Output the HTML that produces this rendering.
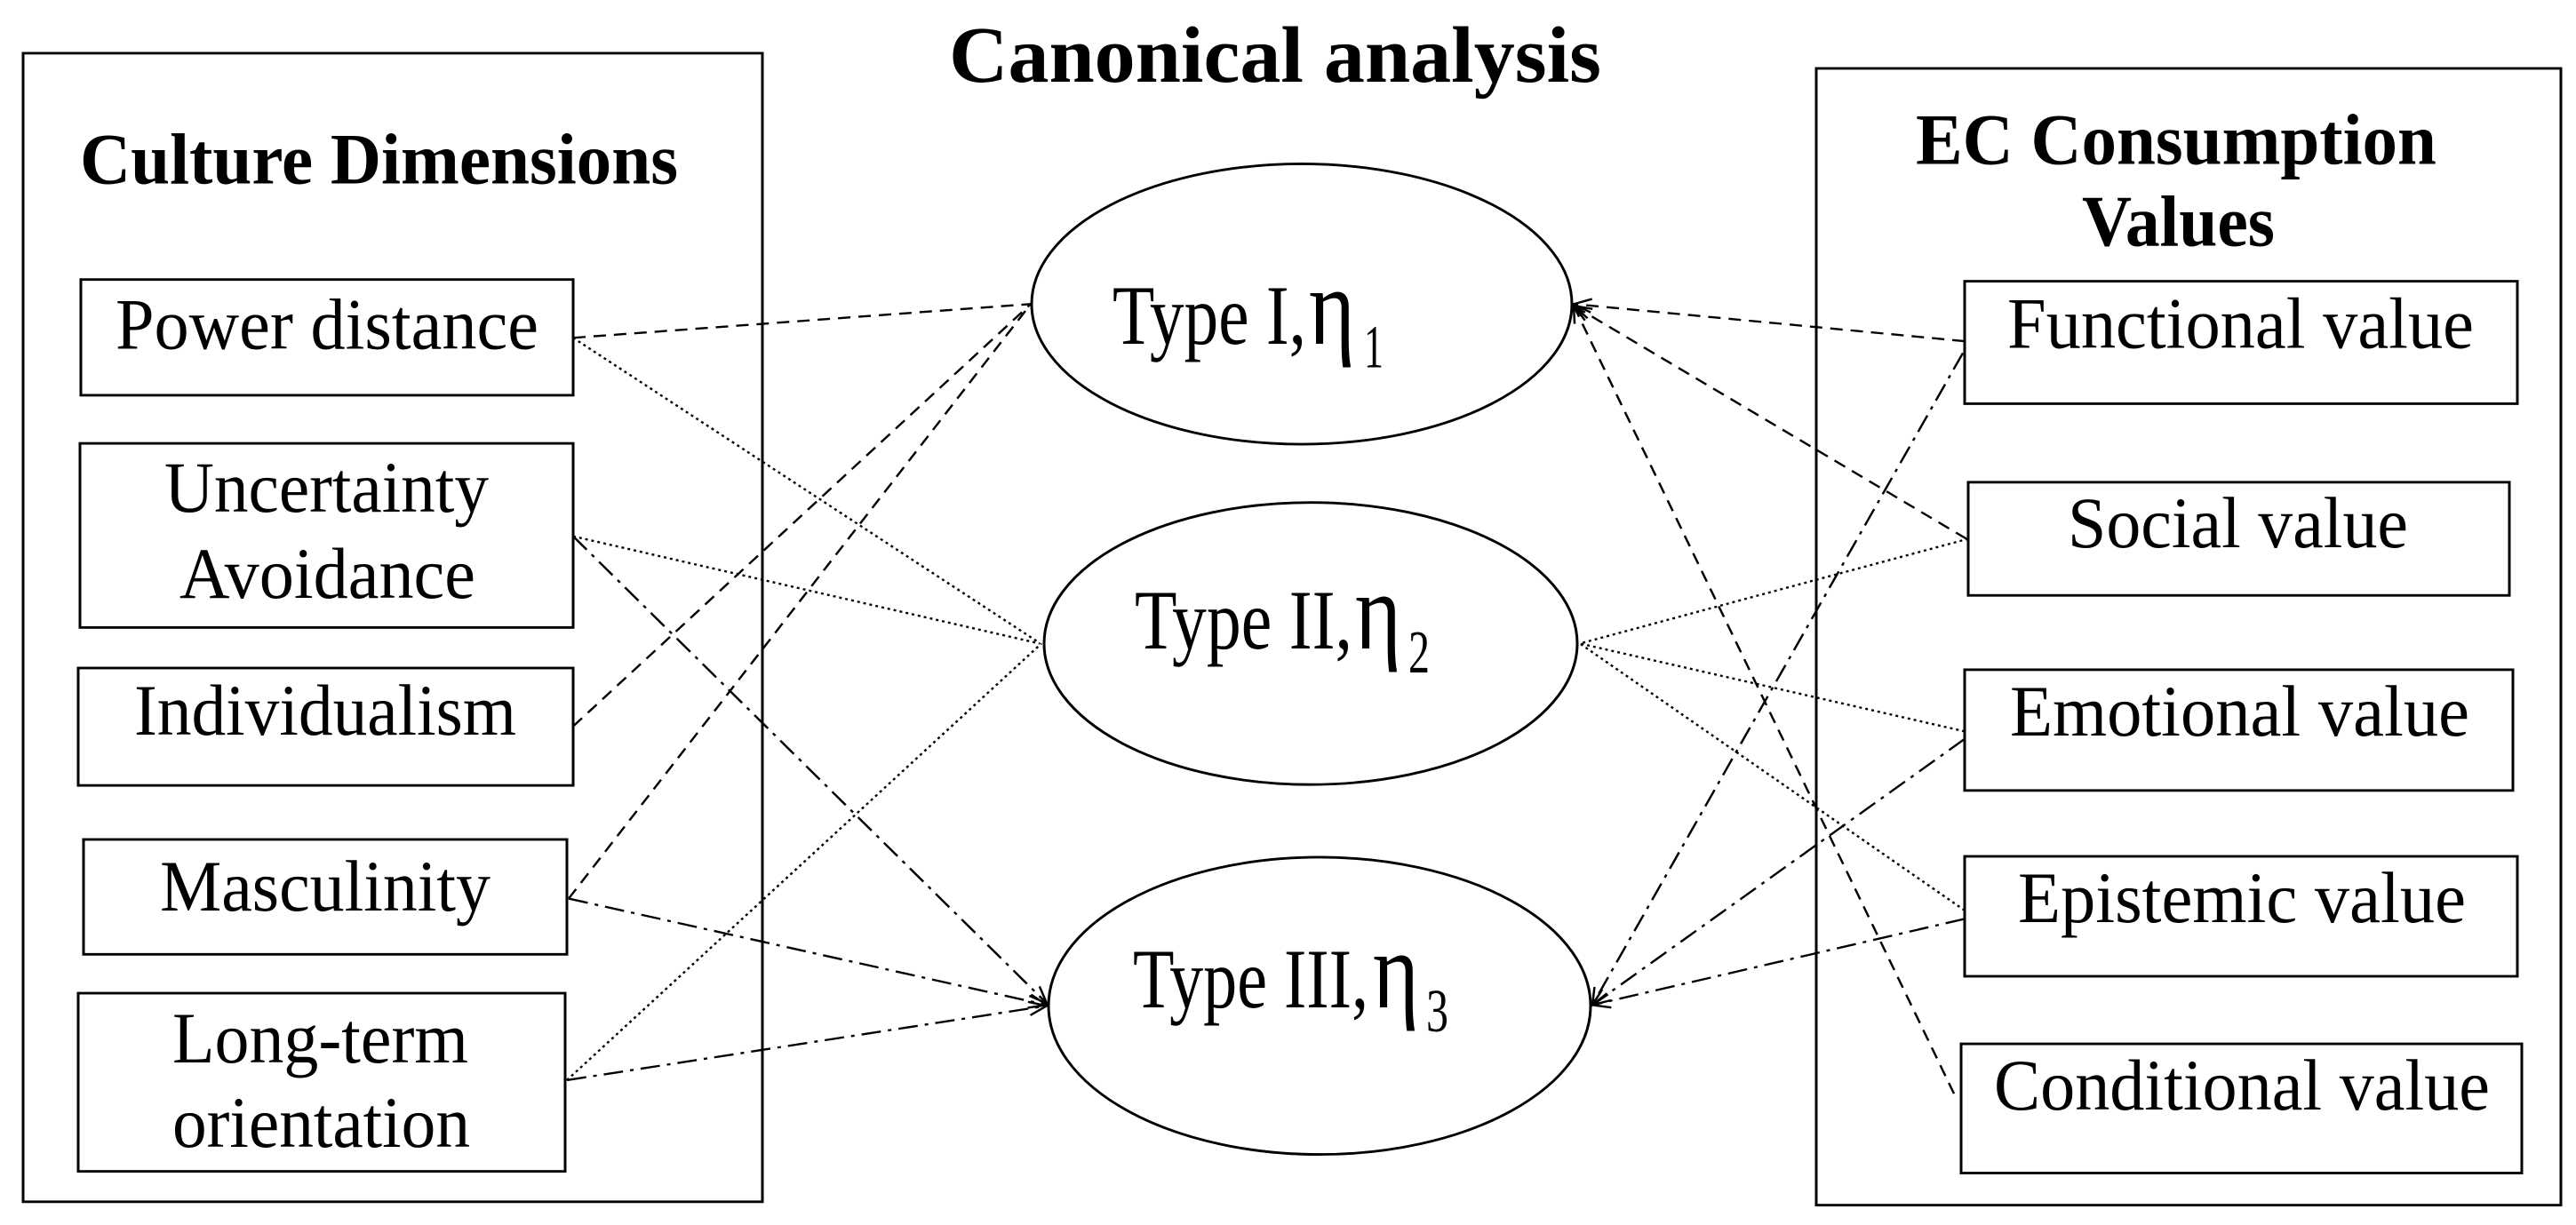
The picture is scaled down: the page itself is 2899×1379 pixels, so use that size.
<!DOCTYPE html>
<html><head><meta charset="utf-8"><style>
html,body{margin:0;padding:0;background:#fff;}
svg{display:block;}
text{font-family:"Liberation Serif",serif;fill:#000;}
.b{font-weight:bold;}
</style></head><body>
<svg width="2899" height="1379" viewBox="0 0 2899 1379" xmlns="http://www.w3.org/2000/svg">
<defs>
<marker id="ar" markerWidth="24" markerHeight="24" refX="22" refY="12" orient="auto" markerUnits="userSpaceOnUse">
<path d="M2,4 L22,12 L2,20" fill="none" stroke="#000" stroke-width="2.5"/>
</marker>
</defs>
<g transform="scale(1,0.9507)">
<g fill="none" stroke="#000" stroke-width="3">
<rect x="26" y="63" width="832" height="1360"/>
<rect x="2044" y="81" width="838" height="1346"/>
<rect x="91" y="331" width="554" height="137"/>
<rect x="90" y="525" width="555" height="218"/>
<rect x="88" y="791" width="557" height="139"/>
<rect x="94" y="994" width="544" height="136"/>
<rect x="88" y="1176" width="548" height="211"/>
<rect x="2211" y="333" width="622" height="145"/>
<rect x="2215" y="571" width="609" height="134"/>
<rect x="2211" y="793" width="617" height="143"/>
<rect x="2211" y="1014" width="622" height="142"/>
<rect x="2207" y="1236" width="631" height="153"/>
<ellipse cx="1465" cy="360" rx="304" ry="166"/>
<ellipse cx="1475" cy="762" rx="300" ry="167"/>
<ellipse cx="1485" cy="1191" rx="305" ry="176"/>
</g>
<g fill="none" stroke="#000" stroke-width="2.5">
<g stroke-dasharray="14,9">
<line x1="645" y1="400" x2="1160" y2="360"/>
<line x1="645" y1="860" x2="1160" y2="360"/>
<line x1="640" y1="1064" x2="1160" y2="360"/>
<line x1="2211" y1="404" x2="1771" y2="360" marker-end="url(#ar)"/>
<line x1="2213" y1="638" x2="1771" y2="362" marker-end="url(#ar)"/>
<line x1="2199" y1="1295" x2="1771" y2="362" marker-end="url(#ar)"/>
</g>
<g stroke-dasharray="3,4">
<line x1="645" y1="400" x2="1168" y2="760"/>
<line x1="645" y1="635" x2="1170" y2="762"/>
<line x1="638" y1="1279" x2="1172" y2="762"/>
<line x1="2215" y1="638" x2="1778" y2="762"/>
<line x1="2211" y1="866" x2="1778" y2="762"/>
<line x1="2211" y1="1078" x2="1778" y2="762"/>
</g>
<g stroke-dasharray="22,8,4,8">
<line x1="645" y1="635" x2="1178" y2="1188" marker-end="url(#ar)"/>
<line x1="640" y1="1064" x2="1178" y2="1190" marker-end="url(#ar)"/>
<line x1="638" y1="1279" x2="1178" y2="1191" marker-end="url(#ar)"/>
<line x1="2209" y1="418" x2="1792" y2="1190" marker-end="url(#ar)"/>
<line x1="2211" y1="875" x2="1792" y2="1190" marker-end="url(#ar)"/>
<line x1="2211" y1="1088" x2="1792" y2="1190" marker-end="url(#ar)"/>
</g>
</g>
<g font-size="86">
<text class="b" x="1068" y="97" font-size="95" textLength="734" lengthAdjust="spacingAndGlyphs">Canonical analysis</text>
<text class="b" x="90" y="217" textLength="673" lengthAdjust="spacingAndGlyphs">Culture Dimensions</text>
<text class="b" x="2156" y="194" textLength="586" lengthAdjust="spacingAndGlyphs">EC Consumption</text>
<text class="b" x="2343" y="291" textLength="217" lengthAdjust="spacingAndGlyphs">Values</text>
<text x="130" y="413" textLength="476" lengthAdjust="spacingAndGlyphs">Power distance</text>
<text x="185" y="606" textLength="365" lengthAdjust="spacingAndGlyphs">Uncertainty</text>
<text x="202" y="708" textLength="333" lengthAdjust="spacingAndGlyphs">Avoidance</text>
<text x="151" y="870" textLength="430" lengthAdjust="spacingAndGlyphs">Individualism</text>
<text x="180" y="1078" textLength="372" lengthAdjust="spacingAndGlyphs">Masculinity</text>
<text x="194" y="1258" textLength="333" lengthAdjust="spacingAndGlyphs">Long-term</text>
<text x="194" y="1358" textLength="335" lengthAdjust="spacingAndGlyphs">orientation</text>
<text x="2259" y="412" textLength="525" lengthAdjust="spacingAndGlyphs">Functional value</text>
<text x="2327" y="648" textLength="383" lengthAdjust="spacingAndGlyphs">Social value</text>
<text x="2262" y="871" textLength="517" lengthAdjust="spacingAndGlyphs">Emotional value</text>
<text x="2271" y="1092" textLength="504" lengthAdjust="spacingAndGlyphs">Epistemic value</text>
<text x="2244" y="1314" textLength="558" lengthAdjust="spacingAndGlyphs">Conditional value</text>
<text x="1252" y="407" font-size="100" textLength="218" lengthAdjust="spacingAndGlyphs">Type I,</text>
<text x="1473" y="407" font-size="130" textLength="52" lengthAdjust="spacingAndGlyphs">η</text>
<text x="1535" y="435" font-size="72" textLength="22" lengthAdjust="spacingAndGlyphs">1</text>
<text x="1277" y="768" font-size="100" textLength="245" lengthAdjust="spacingAndGlyphs">Type II,</text>
<text x="1525" y="768" font-size="130" textLength="52" lengthAdjust="spacingAndGlyphs">η</text>
<text x="1585" y="796" font-size="72" textLength="24" lengthAdjust="spacingAndGlyphs">2</text>
<text x="1275" y="1193" font-size="100" textLength="265" lengthAdjust="spacingAndGlyphs">Type III,</text>
<text x="1545" y="1193" font-size="130" textLength="52" lengthAdjust="spacingAndGlyphs">η</text>
<text x="1605" y="1221" font-size="72" textLength="25" lengthAdjust="spacingAndGlyphs">3</text>
</g>
</g>
</svg>
</body></html>
